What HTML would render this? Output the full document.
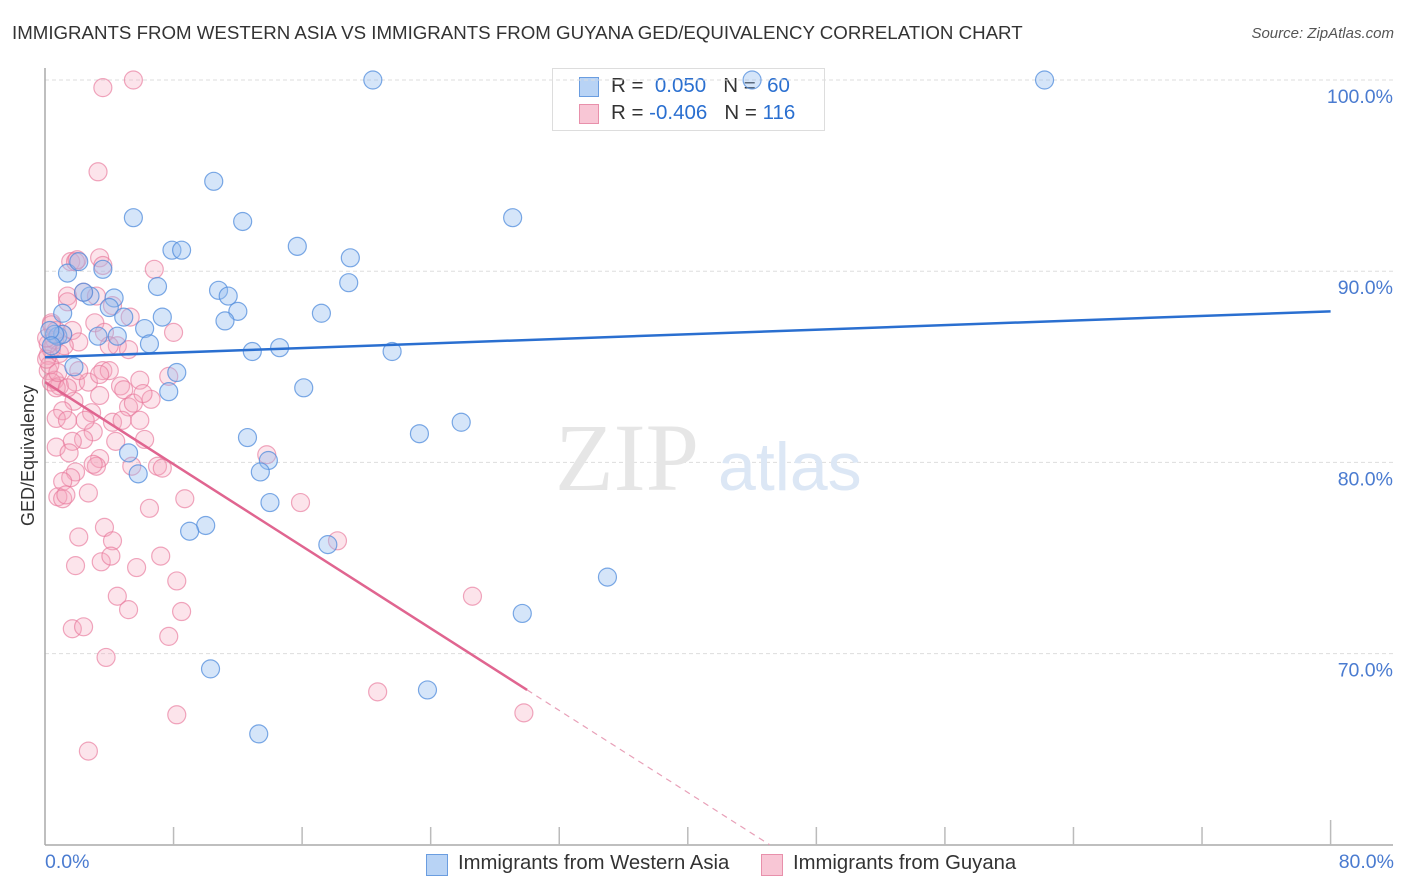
<!DOCTYPE html>
<html><head><meta charset="utf-8"><style>
body{margin:0;background:#fff;font-family:"Liberation Sans",sans-serif}
#c{position:relative;width:1406px;height:892px;overflow:hidden}
.t{position:absolute;white-space:nowrap}
</style></head><body>
<div id="c">
<div class="t" style="left:12px;top:22px;font-size:18.7px;color:#333">IMMIGRANTS FROM WESTERN ASIA VS IMMIGRANTS FROM GUYANA GED/EQUIVALENCY CORRELATION CHART</div>
<div class="t" style="right:12px;top:25px;font-size:15px;color:#555;font-style:italic">Source: ZipAtlas.com</div>
<div style="position:absolute;left:552px;top:68px;width:271px;height:61px;border:1px solid #ddd;background:#fff;font-size:20.5px;color:#333">
<div style="position:absolute;left:26px;top:8px;width:18px;height:18px;background:#b8d3f5;border:1px solid #6a9de0"></div>
<div class="t" style="left:58px;top:5px">R = <span style="color:#2a6fd0">&nbsp;0.050</span>&nbsp;&nbsp;&nbsp;N = <span style="color:#2a6fd0">&nbsp;60</span></div>
<div style="position:absolute;left:26px;top:35px;width:18px;height:18px;background:#f8c6d5;border:1px solid #e890ab"></div>
<div class="t" style="left:58px;top:32px">R = <span style="color:#2a6fd0">-0.406</span>&nbsp;&nbsp;&nbsp;N = <span style="color:#2a6fd0">116</span></div>
</div>
<svg id="s" width="1406" height="892" style="position:absolute;left:0;top:0"></svg>
</div>
<script>
const bx=[20.4,62.2,44.0,10.5,5.5,29.1,12.3,7.9,8.5,15.7,19.0,1.4,3.6,2.1,7.0,10.8,11.4,18.9,4.3,2.8,2.4,1.1,4.0,12.0,11.2,17.2,7.3,4.9,6.2,6.5,3.3,4.5,0.8,1.1,12.9,14.6,21.6,8.2,1.8,7.7,16.1,12.6,23.3,25.9,5.2,5.8,13.9,13.4,14.0,10.0,9.0,17.6,35.0,29.7,10.3,23.8,13.3,0.6,0.3,0.4];
const by=[100,100,100,94.7,92.8,92.8,92.6,91.1,91.1,91.3,90.7,89.9,90.1,90.5,89.2,89.0,88.7,89.4,88.6,88.7,88.9,87.8,88.1,87.9,87.4,87.8,87.6,87.6,87.0,86.2,86.6,86.6,86.6,86.7,85.8,86.0,85.8,84.7,85.0,83.7,83.9,81.3,81.5,82.1,80.5,79.4,80.1,79.5,77.9,76.7,76.4,75.7,74.0,72.1,69.2,68.1,65.8,86.7,86.9,86.1];
const px=[5.5,3.6,3.3,1.6,1.9,2.0,3.4,3.6,6.8,1.4,2.4,3.2,1.4,4.2,0.4,0.7,1.1,1.7,3.1,3.7,2.1,5.3,8.0,4.5,5.2,0.2,0.4,0.6,0.2,0.6,0.9,1.9,2.7,3.6,4.0,4.7,4.9,2.1,3.4,7.7,6.6,5.2,5.5,2.9,1.8,1.1,0.7,1.4,4.2,4.8,6.2,3.0,2.4,0.7,1.7,3.4,3.2,3.0,1.9,1.6,1.1,5.4,7.0,7.3,0.8,1.1,1.3,2.7,8.7,15.9,6.5,3.7,2.1,4.2,18.2,7.2,3.5,4.1,1.9,5.7,8.2,4.5,8.5,5.2,1.7,2.4,7.7,3.8,26.6,13.8,20.7,29.8,8.2,2.7,0.4,0.3,0.1,0.7,0.9,1.2,1.4,5.9,6.1,4.0,4.4,1.5,2.5,3.4,5.9,0.2,0.4,0.1,0.8];
const py=[100,99.6,95.2,90.5,90.5,90.6,90.7,90.3,90.1,88.7,88.9,88.7,88.4,88.2,87.3,86.9,86.7,86.9,87.3,86.8,86.3,87.6,86.8,86.1,85.9,85.6,85.9,86.4,84.8,84.3,84.0,84.2,84.2,84.8,84.8,84.0,83.8,84.8,84.6,84.5,83.3,82.9,83.1,82.6,83.2,82.7,82.3,82.2,82.1,82.2,81.2,81.6,81.2,80.8,81.1,80.2,79.8,79.9,79.5,79.2,79.0,79.8,79.8,79.7,78.2,78.1,78.3,78.4,78.1,77.9,77.6,76.6,76.1,75.9,75.9,75.1,74.8,75.1,74.6,74.5,73.8,73.0,72.2,72.3,71.3,71.4,70.9,69.8,73.0,80.4,68.0,66.9,66.8,64.9,84.2,85.1,85.4,83.9,85.7,86.1,83.9,84.3,83.6,86.1,81.1,80.5,82.2,83.5,82.2,86.2,87.2,86.5,84.7];
const yTicks=[100,90,80,70];
const yLabels=["100.0%","90.0%","80.0%","70.0%"];
const blueTrend=[85.5,87.9];
const pinkTrend=[84.2,68.1,30.0,45.1];
const X=v=>45+v*16.07, Y=v=>80+(100-v)*19.12;
const s=document.getElementById('s');const NS='http://www.w3.org/2000/svg';
function mk(t,a,p){const e=document.createElementNS(NS,t);for(const k in a)e.setAttribute(k,a[k]);(p||s).appendChild(e);return e;}
yTicks.forEach((t,i)=>{const g=mk('line',{x1:45,x2:1393,y1:Y(t),y2:Y(t),stroke:'#ddd','stroke-dasharray':'4,3'});


const l=mk('text',{x:1393,y:Y(t)+23,'text-anchor':'end','font-size':19.5,fill:'#4a7bd0','font-family':'Liberation Sans'});l.textContent=yLabels[i];

});
mk('line',{x1:45,x2:45,y1:68,y2:845,stroke:'#aaa','stroke-width':1.5});
mk('line',{x1:45,x2:1393,y1:845,y2:845,stroke:'#aaa','stroke-width':1.5});
for(let i=1;i<=10;i++){const tk=mk('line',{x1:X(i*8),x2:X(i*8),y1:i==10?820:827,y2:845,stroke:'#bbb','stroke-width':1.5});

}
const wm=mk('text',{x:555,y:490,'font-size':96,fill:'#e6e6e6','font-family':'Liberation Serif'});wm.textContent='ZIP';


const wm2=mk('text',{x:718,y:490,'font-size':68,fill:'#dce7f5','font-family':'Liberation Sans'});wm2.textContent='atlas';


px.forEach((v,i)=>{const c=mk('circle',{cx:X(v),cy:Y(py[i]),r:9,fill:'rgba(244,165,190,0.3)',stroke:'rgba(232,120,155,0.65)','stroke-width':1.2});

});
bx.forEach((v,i)=>{const c=mk('circle',{cx:X(v),cy:Y(by[i]),r:9,fill:'rgba(150,190,240,0.4)',stroke:'rgba(80,140,220,0.75)','stroke-width':1.2});

});
const bl=mk('line',{x1:X(0),y1:Y(blueTrend[0]),x2:X(80),y2:Y(blueTrend[1]),stroke:'#2a6fd0','stroke-width':2.5});


const pl=mk('line',{x1:X(0),y1:Y(pinkTrend[0]),x2:X(pinkTrend[2]),y2:Y(pinkTrend[1]),stroke:'#e06590','stroke-width':2.5});


const pd=mk('line',{x1:X(pinkTrend[2]),y1:Y(pinkTrend[1]),x2:X(pinkTrend[3]),y2:Y(60),stroke:'#e8a0b8','stroke-width':1.2,'stroke-dasharray':'6,5'});


</script>
<div class="t" style="left:-42px;top:445px;font-size:18px;color:#333;transform:rotate(-90deg)">GED/Equivalency</div>
<div class="t" style="left:45px;top:851px;font-size:19.5px;color:#4a7bd0">0.0%</div>
<div class="t" style="right:12px;top:851px;font-size:19.5px;color:#4a7bd0">80.0%</div>
<div style="position:absolute;left:426px;top:852px;font-size:20.3px;color:#333">
<div style="position:absolute;left:0;top:2px;width:20px;height:20px;background:#b8d3f5;border:1px solid #6a9de0"></div>
<div class="t" style="left:32px;top:0">Immigrants from Western Asia</div></div>
<div style="position:absolute;left:761px;top:852px;font-size:20.3px;color:#333">
<div style="position:absolute;left:0;top:2px;width:20px;height:20px;background:#f8c6d5;border:1px solid #e890ab"></div>
<div class="t" style="left:32px;top:0">Immigrants from Guyana</div></div>
</body></html>
